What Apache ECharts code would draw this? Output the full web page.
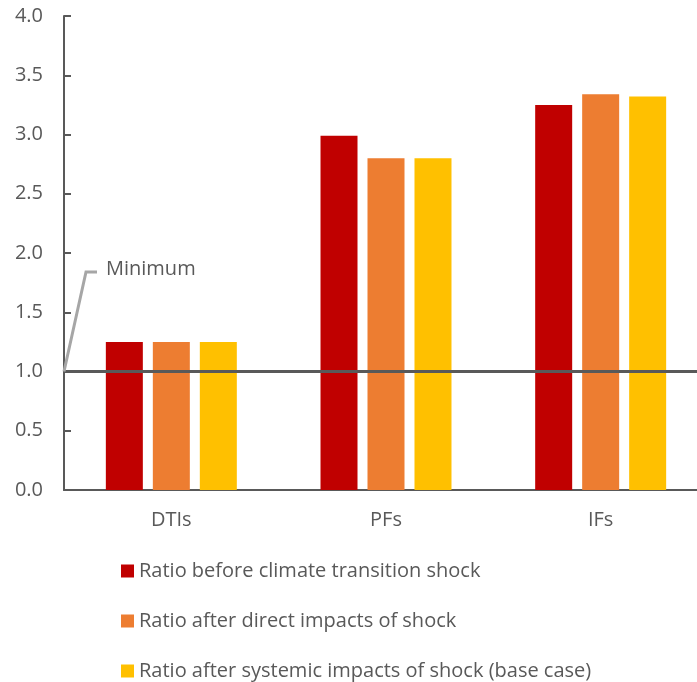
<!DOCTYPE html>
<html>
<head>
<meta charset="utf-8">
<script src="https://cdn.jsdelivr.net/npm/echarts@6/dist/echarts.min.js"></script>
<style>
  html, body { margin: 0; padding: 0; background: #fff; overflow: hidden; }
  #chart { width: 708px; height: 682px; }
</style>
</head>
<body>
<div id="chart"></div>
<script>
// 类别与数据
var categories = ["DTIs", "PFs", "IFs"];
var seriesNames = [
  "Ratio before climate transition shock",
  "Ratio after direct impacts of shock",
  "Ratio after systemic impacts of shock (base case)"
];
var beforeShock = [1.25, 2.99, 3.25];
var afterDirect = [1.25, 2.80, 3.34];
var afterSystemic = [1.25, 2.80, 3.32];
var minimumLevel = 1.0;
var colors = ["#C00000", "#ED7D31", "#FFC000"];

var textColor = "#595959";
var font = "Open Sans";
var fontSize = 20;

var chart = echarts.init(document.getElementById("chart"));

function barSeries(name, data) {
  return {
    name: name,
    type: "bar",
    barWidth: 37,
    barGap: "27%",
    data: data,
    z: 2
  };
}

var series = [
  barSeries(seriesNames[0], beforeShock),
  barSeries(seriesNames[1], afterDirect),
  barSeries(seriesNames[2], afterSystemic)
];
// 最低线
series[0].markLine = {
  silent: true,
  symbol: "none",
  label: { show: false },
  lineStyle: { color: "#595959", width: 3, type: "solid" },
  data: [{ yAxis: minimumLevel }],
  z: 5
};

var option = {
  animation: false,
  color: colors,
  textStyle: { fontFamily: font, color: textColor },
  grid: { left: 64, top: 16, width: 644, height: 474 },
  legend: {
    orient: "vertical",
    left: 121,
    top: 561,
    padding: 0,
    height: 130,
    itemWidth: 13,
    itemHeight: 13,
    itemGap: 30,
    icon: "rect",
    textStyle: { fontSize: fontSize, color: textColor, fontFamily: font },
    data: seriesNames
  },
  xAxis: {
    type: "category",
    data: categories,
    axisLine: { lineStyle: { color: "#595959", width: 2 } },
    axisTick: { show: false },
    axisLabel: { fontSize: fontSize, color: textColor, margin: 20 }
  },
  yAxis: {
    type: "value",
    min: 0,
    max: 4,
    interval: 0.5,
    axisLine: { show: true, lineStyle: { color: "#595959", width: 2 } },
    axisTick: { show: true, inside: true, length: 7, lineStyle: { color: "#595959", width: 2 } },
    splitLine: { show: false },
    axisLabel: {
      fontSize: fontSize,
      color: textColor,
      margin: 21,
      formatter: function (v) { return v.toFixed(1); }
    }
  },
  series: series
};
chart.setOption(option);

// "Minimum" 标注
var x0 = 63;
var y1 = chart.convertToPixel({ yAxisIndex: 0 }, minimumLevel);
var y2 = chart.convertToPixel({ yAxisIndex: 0 }, 1.84);
chart.setOption({
  graphic: [
    {
      type: "polyline",
      shape: { points: [[x0 + 1, y1], [x0 + 23, y2], [x0 + 34, y2]] },
      style: { stroke: "#A6A6A6", lineWidth: 3, fill: null },
      z: 10
    },
    {
      type: "text",
      left: x0 + 43,
      top: y2 - 13,
      style: { text: "Minimum", fontSize: fontSize, fill: textColor, fontFamily: font },
      z: 10
    }
  ]
});
</script>
</body>
</html>
